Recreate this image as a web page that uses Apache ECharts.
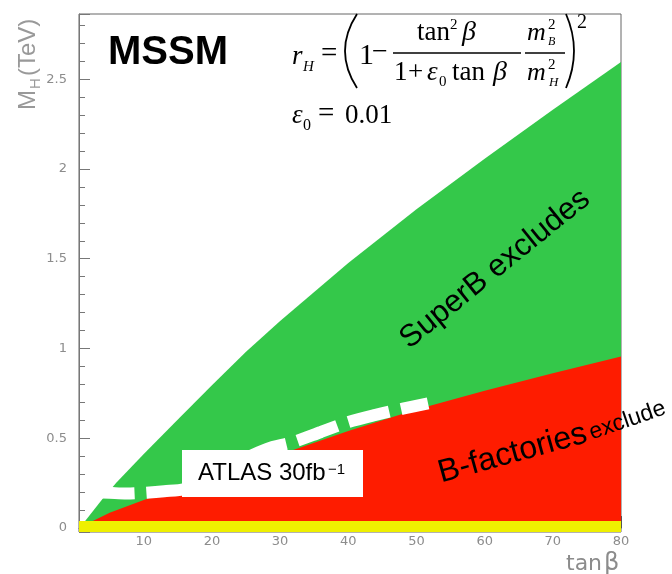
<!DOCTYPE html>
<html>
<head>
<meta charset="utf-8">
<title>MSSM M_H vs tan beta</title>
<style>
  html, body, #chart { width: 100%; height: 100%; margin: 0; padding: 0; background: #fff; }
</style>
</head>
<body>
<div id="chart"></div>
<script src="https://cdn.jsdelivr.net/npm/echarts@6/dist/echarts.min.js"></script>
<script>
// upper edge of the SuperB excluded region (tan beta -> M_H in TeV)
const superbTanB = [1.2, 4, 6, 10, 15, 20, 25, 30, 40, 50, 60, 70, 80];
const superbMH   = [0.03, 0.164, 0.253, 0.413, 0.605, 0.795, 0.982, 1.153, 1.476, 1.776, 2.057, 2.33, 2.596];

// upper edge of the B-factories excluded region
const bfacTanB = [2, 5, 10, 15, 20, 30, 40, 50, 60, 70, 80];
const bfacMH   = [0.03, 0.085, 0.156, 0.22, 0.284, 0.41, 0.54, 0.66, 0.765, 0.862, 0.955];

// ATLAS 30 fb-1 reach (white dashed)
const atlasTanB = [2.5, 5, 7.5, 10, 13, 16, 20, 24, 28, 32, 36, 40, 44, 48, 51.7];
const atlasMH   = [0.2, 0.196, 0.192, 0.196, 0.205, 0.218, 0.28, 0.37, 0.44, 0.48, 0.535, 0.59, 0.63, 0.665, 0.695];

// yellow band along the bottom
const bandTanB = [0.5, 80];
const bandTop = 0.039;

const zip = (xs, ys) => xs.map((x, i) => [x, ys[i]]);

const SANS = '"Liberation Sans", Arial, sans-serif';
const SERIF = '"Liberation Serif", "Times New Roman", serif';

// text placed by its baseline (unrotated)
function txt(str, x, base, size, o) {
  o = o || {};
  return {
    type: 'text', x: x, y: base - 0.34 * size, z: 100,
    style: {
      text: str, fill: o.color || '#000',
      fontSize: size, fontFamily: o.family || SERIF,
      fontStyle: o.italic ? 'italic' : 'normal',
      fontWeight: o.bold ? 'bold' : 'normal',
      align: 'left', verticalAlign: 'middle',
      textAlign: 'left', textVerticalAlign: 'middle'
    }
  };
}
// rotated text, (x, y) is the middle of the text line at its start
function rtxt(str, x, y, deg, size, o) {
  o = o || {};
  const al = o.align || 'left';
  return {
    type: 'text', x: x, y: y, rotation: deg * Math.PI / 180, z: 100,
    style: {
      text: str, fill: o.color || '#000',
      fontSize: size, fontFamily: o.family || SANS,
      align: al, verticalAlign: 'middle',
      textAlign: al, textVerticalAlign: 'middle'
    }
  };
}
function bar(x1, x2, y) {
  return { type: 'line', z: 100, shape: { x1: x1, y1: y, x2: x2, y2: y },
           style: { stroke: '#000', lineWidth: 1.5 } };
}
function paren(x, y1, y2, cx) {
  return { type: 'bezierCurve', z: 100,
           shape: { x1: x, y1: y1, x2: x, y2: y2, cpx1: cx, cpy1: (y1 + y2) / 2 },
           style: { stroke: '#000', fill: null, lineWidth: 1.8 } };
}

const graphics = [
  // ATLAS label box
  { type: 'rect', z: 90, shape: { x: 182, y: 450, width: 181, height: 47 }, style: { fill: '#fff' } },
  txt('ATLAS 30fb', 198, 482, 24, { family: SANS }),
  txt('\u22121', 328, 475, 15, { family: SANS }),

  txt('MSSM', 108, 67, 40, { family: SANS, bold: true }),

  // r_H = (1 - tan^2 b/(1+e0 tan b) * mB^2/mH^2)^2
  txt('r', 292, 66, 27, { italic: true }),
  txt('H', 303, 72, 15, { italic: true }),
  txt('=', 321, 64, 29),
  paren(357, 14, 88, 333),
  txt('1', 359, 66, 30),
  txt('\u2212', 372, 62, 28),
  txt('tan', 417, 42, 27),
  txt('2', 450, 30, 15),
  txt('\u03b2', 462, 42, 28, { italic: true }),
  bar(393, 521, 53),
  txt('1', 394, 82, 27),
  txt('+', 408, 82, 27),
  txt('\u03b5', 427, 82, 27, { italic: true }),
  txt('0', 439, 87, 15),
  txt('tan', 452, 82, 27),
  txt('\u03b2', 493, 82, 28, { italic: true }),
  txt('m', 527, 42, 26, { italic: true }),
  txt('2', 548, 30, 15),
  txt('B', 548, 46, 12, { italic: true }),
  bar(525, 565, 53),
  txt('m', 527, 82, 26, { italic: true }),
  txt('2', 548, 70, 15),
  txt('H', 549, 87, 13, { italic: true }),
  paren(566, 14, 88, 582),
  txt('2', 577, 30, 20),

  // e0 = 0.01
  txt('\u03b5', 292, 125, 27, { italic: true }),
  txt('0', 303, 131, 16),
  txt('=', 318, 124, 29),
  txt('0.01', 345, 125, 27),

  // region labels
  rtxt('SuperB excludes', 495, 269, 39, 31, { align: 'center' }),
  rtxt('B-factories', 439, 474, 15.5, 32),
  rtxt('exclude', 590, 433.5, 19, 23),

  // axis titles
  txt('tan', 566, 572, 22, { family: '"DejaVu Sans", sans-serif', color: '#8c8c8c' }),
  txt('\u03b2', 604, 572, 24, { family: '"DejaVu Sans", sans-serif', color: '#8c8c8c' }),
  rtxt('M', 28.6, 110, 90, 24, { color: '#999' }),
  rtxt('H', 35.8, 89, 90, 15, { color: '#999' }),
  rtxt('(TeV)', 28.6, 76, 90, 24, { color: '#999' })
];

const chart = echarts.init(document.getElementById('chart'));
chart.setOption({
  animation: false,
  backgroundColor: '#fff',
  grid: { left: 79, right: 51, top: 14, bottom: 42, show: true, borderColor: '#666', borderWidth: 1 },
  xAxis: {
    type: 'value', min: 0.5, max: 80, splitNumber: 8,
    splitLine: { show: false },
    axisLine: { lineStyle: { color: '#666' } },
    axisTick: { inside: true, length: 12, lineStyle: { color: '#555' } },
    axisLabel: { color: '#8c8c8c', fontSize: 13, margin: 3, fontFamily: '"DejaVu Sans", sans-serif', showMinLabel: false }
  },
  yAxis: {
    type: 'value', min: -0.022, max: 2.863, splitNumber: 5,
    splitLine: { show: false },
    axisLine: { lineStyle: { color: '#777' } },
    axisTick: { inside: true, length: 11, lineStyle: { color: '#777' } },
    minorTick: { show: true, splitNumber: 5, length: 6, lineStyle: { color: '#777' } },
    axisLabel: { color: '#8c8c8c', fontSize: 13, margin: 12, fontFamily: '"DejaVu Sans", sans-serif',
                 showMinLabel: false, showMaxLabel: false }
  },
  series: [
    { name: 'SuperB', type: 'line', data: zip(superbTanB, superbMH), showSymbol: false,
      lineStyle: { width: 0 }, areaStyle: { color: '#34c84a', opacity: 1 } },
    { name: 'B-factories', type: 'line', data: zip(bfacTanB, bfacMH), showSymbol: false,
      lineStyle: { width: 0 }, areaStyle: { color: '#fe1c00', opacity: 1 } },
    { name: 'band', type: 'line', data: bandTanB.map(x => [x, bandTop]), showSymbol: false,
      lineStyle: { width: 0 }, areaStyle: { color: '#eff000', opacity: 1, origin: 'start' } },
    { name: 'ATLAS', type: 'line', data: zip(atlasTanB, atlasMH), showSymbol: false, smooth: 0.3,
      lineStyle: { color: '#fff', width: 12, type: [42, 12], dashOffset: 0, cap: 'butt' } }
  ],
  graphic: graphics
});
</script>
</body>
</html>
